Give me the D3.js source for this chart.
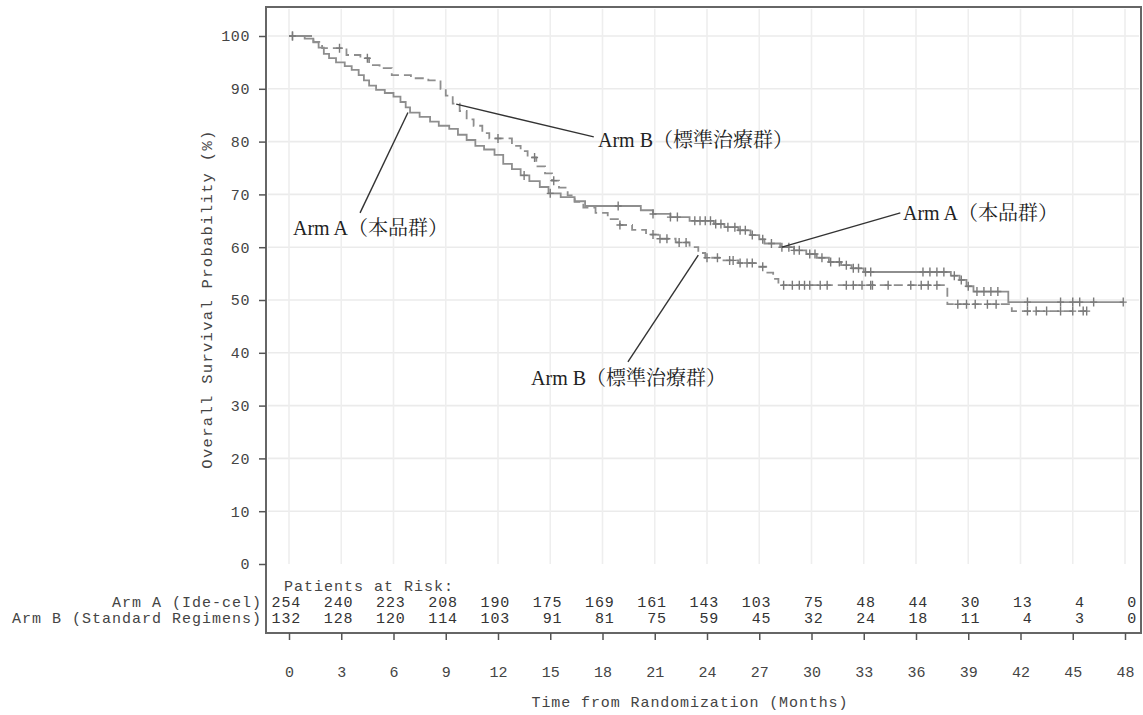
<!DOCTYPE html>
<html>
<head>
<meta charset="utf-8">
<script src="https://cdn.jsdelivr.net/npm/d3@7"></script>
<style>
  body { margin: 0; background: #fff; }
  svg { display: block; }
</style>
</head>
<body>
<div id="chart"></div>
<script>
// x axis months and at-risk table
const months = [0, 3, 6, 9, 12, 15, 18, 21, 24, 27, 30, 33, 36, 39, 42, 45, 48];
const atRiskA = [254, 240, 223, 208, 190, 175, 169, 161, 143, 103, 75, 48, 44, 30, 13, 4, 0];
const atRiskB = [132, 128, 120, 114, 103, 91, 81, 75, 59, 45, 32, 24, 18, 11, 4, 3, 0];
const yTicks = [0, 10, 20, 30, 40, 50, 60, 70, 80, 90, 100];

// Arm A (Ide-cel) step points
const armATime = [0, 0.9, 1.4, 1.7, 2.0, 2.3, 2.7, 3.2, 3.6, 4.0, 4.3, 4.6, 5.0, 5.5, 6.0, 6.4, 6.7, 6.95, 7.5, 8.1,
  8.6, 9.2, 9.7, 10.2, 10.7, 11.2, 11.8, 12.3, 12.8, 13.3, 13.8, 14.4, 14.9, 15.6, 16.4, 17.0, 20.2, 20.9, 21.9, 23.0,
  24.4, 25.0, 25.8, 26.5, 27.0, 27.3, 28.2, 29.0, 29.7, 30.3, 31.0, 31.7, 32.3, 33.0, 38.0, 38.5, 38.9, 39.3, 41.3];
const armASurv = [100, 99.5, 98.8, 97.8, 96.6, 95.8, 95.0, 94.3, 93.6, 92.6, 91.6, 90.6, 89.8, 89.2, 88.5, 87.5, 86.5, 85.5, 84.7, 83.8,
  83.0, 82.4, 81.3, 80.3, 79.2, 78.5, 77.5, 75.8, 74.8, 73.6, 72.5, 71.4, 70.2, 69.5, 68.7, 67.8, 67.0, 66.3, 65.7, 65.0,
  64.4, 63.8, 63.2, 62.3, 61.5, 60.7, 60.0, 59.4, 58.7, 58.0, 57.2, 56.6, 56.0, 55.3, 54.6, 53.8, 52.6, 51.6, 49.6];
const armAEnd = 47.9;
const armACensor = [0.2, 13.5, 15.0, 18.9, 20.9, 21.9, 22.3, 23.3, 23.6, 23.9, 24.2, 24.5, 24.8, 25.2, 25.6, 25.9, 26.2, 26.6,
  27.2, 27.7, 28.3, 28.7, 29.0, 29.3, 29.9, 30.2, 30.6, 31.1, 31.6, 32.0, 32.4, 32.7, 33.1, 33.4, 36.4, 36.8, 37.2, 37.6,
  38.2, 38.6, 39.0, 39.5, 39.9, 40.3, 40.7, 42.4, 44.3, 45.0, 45.4, 46.2, 47.9];

// Arm B (Standard Regimens)
const armBTime = [0, 1.4, 1.9, 3.3, 4.1, 4.6, 5.2, 5.9, 7.0, 8.0, 8.7, 9.0, 9.4, 9.8, 10.2, 10.6, 11.1, 11.5, 12.8, 13.3,
  13.7, 14.2, 14.7, 15.1, 15.5, 16.0, 16.4, 16.9, 17.6, 18.3, 19.0, 19.7, 20.5, 21.2, 22.2, 23.0, 23.5, 23.9, 24.8, 25.8,
  26.9, 27.4, 27.8, 28.1, 37.8, 41.5];
const armBSurv = [100, 98.9, 97.7, 96.4, 95.8, 94.5, 93.9, 92.6, 92.0, 91.6, 90.0, 88.7, 87.2, 85.8, 84.2, 83.0, 81.6, 80.6, 79.2, 78.2,
  77.0, 75.3, 74.0, 72.6, 71.3, 69.8, 68.6, 67.5, 66.5, 65.3, 64.2, 63.3, 62.4, 61.6, 60.9, 60.0, 58.9, 58.0, 57.5, 57.0,
  56.3, 55.2, 54.0, 52.8, 49.2, 47.9];
const armBEnd = 45.8;
const armBCensor = [0.2, 2.9, 4.5, 12.0, 14.1, 15.2, 19.0, 20.9, 21.3, 21.7, 22.4, 22.8, 24.0, 24.6, 25.3, 25.5, 25.9, 26.3,
  26.6, 27.2, 28.4, 28.9, 29.3, 29.6, 29.9, 30.5, 30.9, 32.0, 32.4, 32.9, 33.4, 33.5, 34.4, 35.7, 36.3, 36.7, 37.2,
  38.4, 38.9, 39.4, 40.1, 40.6, 42.4, 42.9, 43.5, 44.3, 45.0, 45.6, 45.8];

// callouts: text, pointer tip (month, %), pointer end, text anchor point
const callouts = [
  { text: "Arm B（標準治療群）", tip: [9.6, 87.1], end: [17.5, 80.9], at: [17.74, 80.3] },
  { text: "Arm A（本品群）", tip: [6.83, 85.5], end: [4.08, 66.5], at: [0.23, 63.6] },
  { text: "Arm A（本品群）", tip: [28.3, 60.0], end: [35.1, 66.5], at: [35.25, 66.5] },
  { text: "Arm B（標準治療群）", tip: [23.5, 58.5], end: [19.46, 38.3], at: [13.9, 35.2] }
];

const W = 1143, H = 715;
const mono = "'Liberation Mono', 'DejaVu Sans Mono', monospace";
const serif = "'Liberation Serif', 'Noto Serif CJK JP', 'Noto Sans CJK JP', serif";

const svg = d3.select("#chart").append("svg")
  .attr("width", W)
  .attr("height", H);

const frame = { left: 266, top: 7, right: 1141, bottom: 633 };

const x = d3.scaleLinear().domain([0, 48]).range([289, 1125]);
const y = d3.scaleLinear().domain([0, 100]).range([564, 36]);

// grid
const grid = svg.append("g").attr("class", "grid");
grid.selectAll("line.h").data(yTicks.filter(d => d > 0)).enter()
  .append("line")
  .attr("x1", frame.left + 2).attr("x2", frame.right - 2)
  .attr("y1", d => y(d)).attr("y2", d => y(d))
  .style("stroke", "#ebebeb").style("stroke-width", 1.6);
grid.selectAll("line.v").data(months).enter()
  .append("line")
  .attr("x1", d => x(d)).attr("x2", d => x(d))
  .attr("y1", frame.top + 2).attr("y2", y(0))
  .style("stroke", "#eeeeee").style("stroke-width", 1.6);

// frame
svg.append("rect")
  .attr("x", frame.left).attr("y", frame.top)
  .attr("width", frame.right - frame.left)
  .attr("height", frame.bottom - frame.top)
  .style("fill", "none")
  .style("stroke", "#666")
  .style("stroke-width", 2);

// y axis
const yAxis = d3.axisLeft(y).tickValues(yTicks).tickSize(7).tickPadding(9);
const gy = svg.append("g")
  .attr("transform", `translate(${frame.left},0)`)
  .call(yAxis);
gy.select(".domain").remove();
gy.selectAll(".tick line").style("stroke", "#555").style("stroke-width", 1.5);
gy.selectAll(".tick text")
  .style("font-family", mono).style("font-size", "15px").style("letter-spacing", "0.6px").style("fill", "#444");

// x axis
const xAxis = d3.axisBottom(x).tickValues(months).tickSize(7).tickPadding(26);
const gx = svg.append("g")
  .attr("transform", `translate(0,${frame.bottom})`)
  .call(xAxis);
gx.select(".domain").remove();
gx.selectAll(".tick line").style("stroke", "#555").style("stroke-width", 1.5);
gx.selectAll(".tick text")
  .style("font-family", mono).style("font-size", "15px").style("fill", "#444");

// axis titles
svg.append("text")
  .text("Time from Randomization (Months)")
  .attr("x", 690).attr("y", 707)
  .attr("text-anchor", "middle")
  .style("font-family", mono).style("font-size", "15px").style("letter-spacing", "0.9px").style("fill", "#444");

svg.append("text")
  .text("Overall Survival Probability (%)")
  .attr("transform", `translate(212,299) rotate(-90)`)
  .attr("text-anchor", "middle")
  .style("font-family", mono).style("font-size", "15.5px").style("letter-spacing", "1.3px").style("fill", "#444");

// patients at risk table
const tableFont = "15px";
svg.append("text")
  .text("Patients at Risk:")
  .attr("x", 284).attr("y", 591)
  .style("font-family", mono).style("font-size", tableFont).style("letter-spacing", "1px").style("fill", "#444");

const rows = [
  { label: "Arm A (Ide-cel)", vals: atRiskA, yy: 607 },
  { label: "Arm B (Standard Regimens)", vals: atRiskB, yy: 623 }
];
rows.forEach(r => {
  svg.append("text")
    .text(r.label)
    .attr("x", 262).attr("y", r.yy)
    .attr("text-anchor", "end")
    .style("font-family", mono).style("font-size", tableFont).style("letter-spacing", "1px").style("fill", "#444");
  svg.append("g").selectAll("text").data(r.vals).enter()
    .append("text")
    .text(d => d)
    .attr("x", (d, i) => x(months[i]) + 12)
    .attr("y", r.yy)
    .attr("text-anchor", "end")
    .style("font-family", mono).style("font-size", tableFont).style("letter-spacing", "0.8px").style("fill", "#333");
});

// survival curves
const stepLine = d3.line()
  .x(d => x(d[0]))
  .y(d => y(d[1]))
  .curve(d3.curveStepAfter);

function arm(times, surv, endT) {
  const pts = times.map((t, i) => [t, surv[i]]);
  pts.push([endT, surv[surv.length - 1]]);
  return pts;
}
function survAt(times, surv, t) {
  let s = surv[0];
  for (let i = 0; i < times.length; i++) { if (times[i] <= t) s = surv[i]; }
  return s;
}

const curves = [
  { pts: arm(armATime, armASurv, armAEnd), dash: null, cens: armACensor, t: armATime, s: armASurv },
  { pts: arm(armBTime, armBSurv, armBEnd), dash: "9,5", cens: armBCensor, t: armBTime, s: armBSurv }
];

curves.forEach(c => {
  svg.append("path")
    .datum(c.pts)
    .attr("d", stepLine)
    .style("fill", "none")
    .style("stroke", "#8e8e8e")
    .style("stroke-width", 1.8)
    .style("stroke-dasharray", c.dash);

  svg.append("g").selectAll("path").data(c.cens).enter()
    .append("path")
    .attr("d", d => {
      const cx = x(d), cy = y(survAt(c.t, c.s, d));
      return `M${cx},${cy - 4.5}V${cy + 4.5}M${cx - 3.5},${cy}H${cx + 3.5}`;
    })
    .style("fill", "none")
    .style("stroke", "#7a7a7a")
    .style("stroke-width", 1.4);
});

// callouts
callouts.forEach(c => {
  svg.append("line")
    .attr("x1", x(c.tip[0])).attr("y1", y(c.tip[1]))
    .attr("x2", x(c.end[0])).attr("y2", y(c.end[1]))
    .style("stroke", "#333").style("stroke-width", 1.4);
  svg.append("text")
    .text(c.text)
    .attr("x", x(c.at[0])).attr("y", y(c.at[1]))
    .attr("dy", "0.35em")
    .style("font-family", serif).style("font-size", "20px").style("fill", "#222");
});
</script>
</body>
</html>
